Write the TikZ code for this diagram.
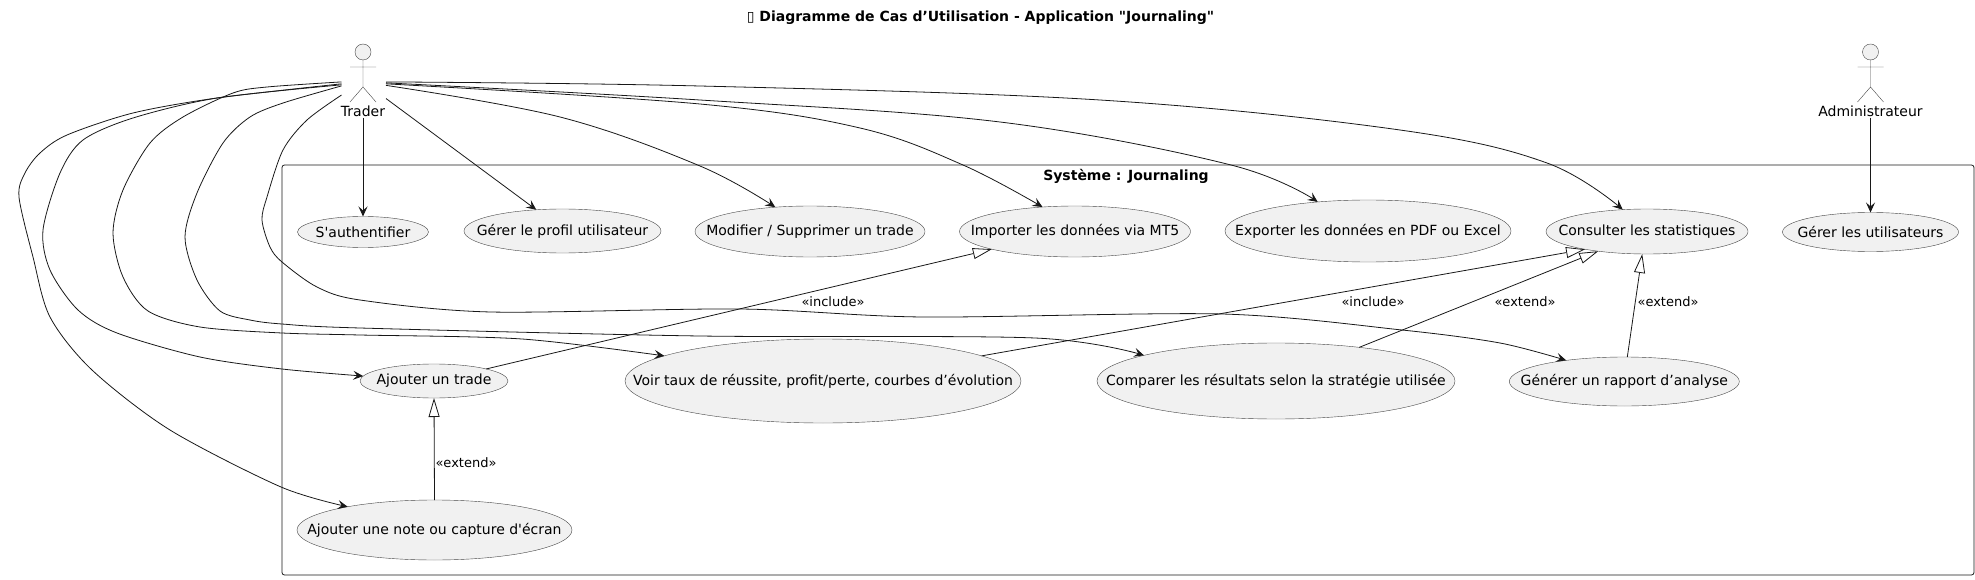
\documentclass[tikz,border=0pt]{standalone}
\usepackage{fontspec}
\newfontfamily\diagramfont{DejaVu Sans}
\usetikzlibrary
  {
    arrows.meta,       % arrow heads of the connectors
    shapes.geometric,  % ellipses of the use cases
  }

\definecolor{casefill}{HTML}{F1F1F1}
\definecolor{caseline}{HTML}{181818}

% the ellipse is sized by hand, so the text must not widen it
\newcommand\casetext[1]{\makebox[0pt]{#1}}
\newcommand\casefont{\diagramfont\fontsize{14}{16}\selectfont}

\tikzset
  {
    usecase/.style={ellipse, draw=caseline!80, line width=.4pt, fill=casefill,
                    inner sep=0, outer sep=0, font=\casefont},
    actorlabel/.style={inner sep=1pt, font=\casefont},
    actorbox/.style={inner sep=0, outer sep=0, minimum width=44.5pt, minimum height=64pt},
    linklabel/.style={inner sep=0, font=\diagramfont\fontsize{13}{15}\selectfont},
    assoc/.style={line width=.8pt, caseline, -{Stealth[length=10pt, width=9pt, inset=4pt]}},
    derive/.style={line width=.8pt, caseline, -{Triangle[open, fill=white, length=19pt, width=11pt]}},
    actorfig/.pic={
      \draw[caseline!80, line width=.4pt, fill=casefill] (0,0) ellipse (8pt and 8pt);
      \draw[caseline!80, line width=.4pt]
            (0,8) -- (0,35) (-13,15) -- (13,15)
            (-13,50) -- (0,35) -- (13,50);
    },
  }

\begin{document}
\begin{tikzpicture}[x=1pt, y=-1pt]
    \useasboundingbox (0,0) rectangle (1975,580);

    \node (title) [inner sep=0, font=\casefont\bfseries] at (980.5,18)
          {▯ Diagramme de Cas d’Utilisation - Application "Journaling"};

    \node (system) [draw, line width=.8pt, caseline, rounded corners=2.5pt, inner sep=0,
                    minimum width=1692pt, minimum height=410pt] at (1128,370) {};
    \node (systemlabel) [inner sep=0, font=\casefont\bfseries] at (1126,176)
          {Système : Journaling};

    % actors
    \pic at (363,52) {actorfig};
    \pic at (1870.5,52) {actorfig};
    \node (traderbox) [actorbox] at (363.75,72) {};
    \node (trader) [actorlabel] at (363,111) {Trader};
    \node (admin) [actorlabel] at (1870.5,111) {Administrateur};

    % use cases, first row
    \node (auth) [usecase, minimum width=131pt, minimum height=31pt] at (363,232) {\casetext{S'authentifier}};
    \node (profil) [usecase, minimum width=197pt, minimum height=44pt] at (562.5,231) {\casetext{Gérer le profil utilisateur}};
    \node (modif) [usecase, minimum width=230pt, minimum height=51pt] at (810,231.5) {\casetext{Modifier / Supprimer un trade}};
    \node (import) [usecase, minimum width=231pt, minimum height=51pt] at (1075,231.5) {\casetext{Importer les données via MT5}};
    \node (export) [usecase, minimum width=286pt, minimum height=62pt] at (1368,231) {\casetext{Exporter les données en PDF ou Excel}};
    \node (stats) [usecase, minimum width=202pt, minimum height=45pt] at (1647,231.5) {\casetext{Consulter les statistiques}};
    \node (users) [usecase, minimum width=176pt, minimum height=39pt] at (1870.5,232) {\casetext{Gérer les utilisateurs}};

    % use cases, second row
    \node (trade) [usecase, minimum width=148pt, minimum height=34pt] at (434,381) {\casetext{Ajouter un trade}};
    \node (taux) [usecase, minimum width=396pt, minimum height=84pt] at (823,381) {\casetext{Voir taux de réussite, profit/perte, courbes d’évolution}};
    \node (compare) [usecase, minimum width=358pt, minimum height=76pt] at (1276,381) {\casetext{Comparer les résultats selon la stratégie utilisée}};
    \node (rapport) [usecase, minimum width=230pt, minimum height=49pt] at (1624.3,381.5) {\casetext{Générer un rapport d’analyse}};
    \node (note) [usecase, minimum width=275pt, minimum height=60pt] at (434.5,530) {\casetext{Ajouter une note ou capture d'écran}};

    \draw[assoc] (trader.south) -- (auth.north);
    \draw[assoc] (admin.south) -- (users.north);
    \draw[assoc] (traderbox.-50.5) -- (profil.141.6);
    \draw[assoc] plot[smooth, tension=.6] coordinates
          {(traderbox.-31) (560,117) (700,166) (modif.145.8)};
    \draw[assoc] plot[smooth, tension=.6] coordinates
          {(traderbox.-28) (700,104) (860,128) (963,165) (import.143.8)};
    \draw[assoc] plot[smooth, tension=.6] coordinates
          {(traderbox.-26) (700,100) (1000,122) (1231,165) (export.150.4)};
    \draw[assoc] plot[smooth, tension=.6] coordinates
          {(traderbox.-24) (700,86) (1100,100) (1400,130) (1547,163) (stats.138.7)};

    \draw[assoc] plot[smooth, tension=.5] coordinates
          {(traderbox.208) (217,98) (133,113) (67,135) (40,153) (25,173) (19,197) (33,257) (50,317) (92,370) (170,430) (281,487) (note.165.7)};
    \draw[assoc] plot[smooth, tension=.5] coordinates
          {(traderbox.210) (217,98) (133,118) (83,140) (60,173) (43,230) (50,270) (78,310) (117,333) (200,357) (282,369) (trade.176.7)};
    \draw[assoc] plot[smooth, tension=.5] coordinates
          {(traderbox.204) (267,87) (233,93) (183,117) (150,143) (123,190) (113,233) (123,277) (148,311) (200,327) (282,333) (360,335) (522,339) (taux.171.5)};
    \draw[assoc] plot[smooth, tension=.5] coordinates
          {(traderbox.212) (283,103) (250,117) (223,143) (197,193) (185,237) (197,280) (220,311) (250,320) (282,324) (360,328) (700,336) (1035,338) (compare.169)};
    \draw[assoc] plot[smooth, tension=.5] coordinates
          {(traderbox.226) (307,120) (283,150) (267,197) (262,220) (270,247) (282,262) (317,287) (360,300) (491,312) (740,309) (923,317) (1222,314) (1402,330) (1500,343) (rapport.160.9)};

    \draw[derive] (trade.13.5) -- (import.192.8);
    \draw[derive] (taux.9.5) -- (stats.196);
    \draw[derive] (compare.22.5) -- (stats.202.7);
    \draw[derive] (rapport.83.7) -- (stats.258);
    \draw[derive] (note.north) -- (trade.south);

    \node (incl1) [linklabel] at (833,302) {«include»};
    \node (incl2) [linklabel] at (1373,302) {«include»};
    \node (ext1) [linklabel] at (1525,302) {«extend»};
    \node (ext2) [linklabel] at (1668,302) {«extend»};
    \node (ext3) [linklabel] at (466,463) {«extend»};
\end{tikzpicture}
\end{document}
